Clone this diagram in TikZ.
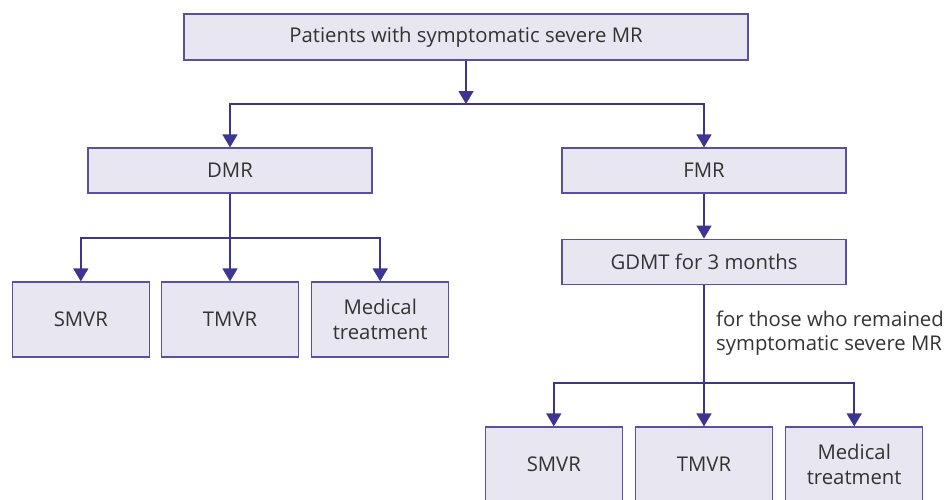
\documentclass[tikz,border=0pt]{standalone}
\usepackage{fontspec}
\setmainfont{Open Sans}
\usepackage{tikz}
\usetikzlibrary{arrows.meta, positioning, calc}

\definecolor{boxfill}{HTML}{E8E7F1}
\definecolor{boxline}{HTML}{5A50A3}
\definecolor{arrline}{HTML}{3C3592}
\definecolor{txt}{HTML}{333333}

\begin{document}
\begin{tikzpicture}[x=1pt, y=-1pt, node distance=45pt,
        step_box/.style={draw=boxline, line width=1.2pt, fill=boxfill, rectangle, align=center,
            text=txt, font=\fontsize{20.3}{25.5}\selectfont, inner sep=0pt},
        wide_box/.style={step_box, minimum width=284pt, minimum height=45pt},
        small_box/.style={step_box, minimum width=137pt, minimum height=75pt},
        arr/.style={draw=arrline, line width=1.5pt, -{Triangle[width=15pt, length=13pt]}},
        conn/.style={draw=arrline, line width=1.5pt}]

        % Fix the frame to the reference size (bottom row runs off the page)
        \clip (0,0) rectangle (945,499);

        % Top box
        \node[step_box, minimum width=564pt, minimum height=46pt] (patients) at (466,37) {Patients with symptomatic severe MR};

        % Second row
        \node[wide_box] (dmr) at (230,170.5) {DMR};
        \node[wide_box] (fmr) at (704,170.5) {FMR};
        \node[wide_box, below=of fmr] (gdmt) {GDMT for 3 months};

        % Treatments under DMR
        \node[small_box] (l_tmvr) at (230,319.5) {TMVR};
        \node[small_box, left=11pt of l_tmvr] (l_smvr) {SMVR};
        \node[small_box, right=12pt of l_tmvr] (l_med) {Medical\\treatment};

        % Treatments under FMR
        \node[small_box] (r_tmvr) at (704,464.5) {TMVR};
        \node[small_box, left=12pt of r_tmvr] (r_smvr) {SMVR};
        \node[small_box, right=12pt of r_tmvr] (r_med) {Medical\\treatment};

        % Note beside the GDMT branch
        \node[anchor=north west, align=left, text=txt, font=\fontsize{20.3}{24}\selectfont, inner sep=0pt]
            (remain) at (716,311) {for those who remained\\symptomatic severe MR};

        % Split points
        \coordinate (top_split) at (466,104);
        \coordinate (dmr_split) at (230,238);
        \coordinate (gdmt_split) at (704,383);

        \draw[arr] (patients) -- (top_split);
        \draw[conn] (dmr.north |- top_split) -- (fmr.north |- top_split);
        \draw[arr] (top_split) -| (dmr);
        \draw[arr] (top_split) -| (fmr);

        \draw[arr] (dmr) -- (l_tmvr);
        \draw[conn] (l_smvr.north |- dmr_split) -- (l_med.north |- dmr_split);
        \draw[arr] (dmr_split) -| (l_smvr);
        \draw[arr] (dmr_split) -| (l_med);

        \draw[arr] (fmr) -- (gdmt);
        \draw[arr] (gdmt) -- (r_tmvr);
        \draw[conn] (r_smvr.north |- gdmt_split) -- (r_med.north |- gdmt_split);
        \draw[arr] (gdmt_split) -| (r_smvr);
        \draw[arr] (gdmt_split) -| (r_med);
    \end{tikzpicture}
\end{document}
